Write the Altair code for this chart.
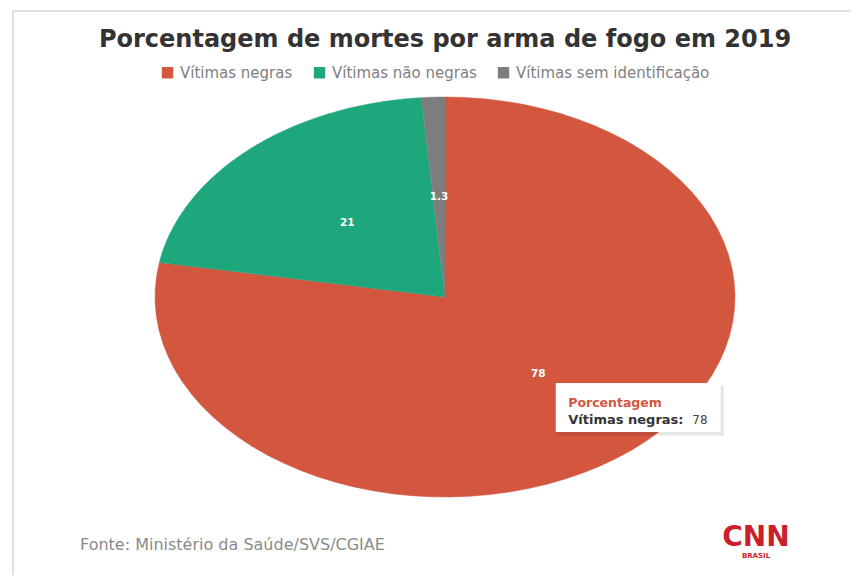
import altair as alt
import numpy as np
import pandas as pd

# ---- data ----
categorias = ["Vítimas negras", "Vítimas não negras", "Vítimas sem identificação"]
valores = [78, 21, 1.3]
rotulos = ["78", "21", "1.3"]
cores = ["#d3563f", "#1ea67d", "#7d7d7d"]
ordem = [0, 1, 2]

titulo = "Porcentagem de mortes por arma de fogo em 2019"
fonte = "Fonte: Ministério da Saúde/SVS/CGIAE"

# parametrisation of each wedge outline (-1 = centre point)
passos = [-1.0] + list(np.linspace(0, 1, 73))

fatias = pd.DataFrame({
    "categoria": categorias,
    "valor": valores,
    "rotulo": rotulos,
    "ordem": ordem,
})
fatias["t"] = [passos] * len(fatias)

cor = alt.Color(
    "categoria:N",
    scale=alt.Scale(domain=categorias, range=cores),
    legend=alt.Legend(
        title=None, orient="none", direction="horizontal",
        legendX=5, legendY=-32, symbolType="square", symbolSize=130,
        symbolStrokeWidth=0, labelFontSize=15, labelColor="#808080",
        labelFont="DejaVu Sans", columnPadding=19, symbolOffset=0,
        labelOffset=5, labelLimit=400,
    ),
)

xs = alt.Scale(domain=[-1, 1], nice=False, zero=False)
ys = alt.Scale(domain=[-1, 1], nice=False, zero=False)

base = alt.Chart(fatias).transform_joinaggregate(
    total="sum(valor)"
).transform_window(
    acum="sum(valor)", sort=[alt.SortField("ordem")], frame=[None, 0]
).transform_calculate(
    ini="(datum.acum - datum.valor) / datum.total * 2 * PI",
    fim="datum.acum / datum.total * 2 * PI",
)

wedges = base.transform_flatten(["t"]).transform_calculate(
    ang="datum.ini + datum.t * (datum.fim - datum.ini)",
    px="datum.t < 0 ? 0 : sin(datum.ang)",
    py="datum.t < 0 ? 0 : cos(datum.ang)",
).mark_line(filled=True, strokeWidth=0.5, interpolate="linear").encode(
    x=alt.X("px:Q", scale=xs, axis=None),
    y=alt.Y("py:Q", scale=ys, axis=None),
    color=cor,
    stroke=alt.Stroke("categoria:N", scale=alt.Scale(domain=categorias, range=cores), legend=None),
    order=alt.Order("t:Q"),
    detail="categoria:N",
)

meio = base.transform_calculate(
    meio="(datum.ini + datum.fim) / 2",
    lx="0.5 * sin(datum.meio)",
    ly="0.5 * cos(datum.meio)",
)

labels = meio.mark_text(
    font="DejaVu Sans", fontWeight="bold", fontSize=10.5, color="white",
).encode(
    x=alt.X("lx:Q", scale=xs, axis=None),
    y=alt.Y("ly:Q", scale=ys, axis=None),
    text="rotulo:N",
)

destaque = meio.transform_filter(alt.datum.ordem == 0)

sombra = destaque.mark_rect(
    width=167, height=50, color="#000", opacity=0.10, xOffset=102, yOffset=37
).encode(
    x=alt.X("lx:Q", scale=xs, axis=None),
    y=alt.Y("ly:Q", scale=ys, axis=None),
)
caixa = destaque.mark_rect(
    width=165, height=49, color="white", xOffset=100, yOffset=34
).encode(
    x=alt.X("lx:Q", scale=xs, axis=None),
    y=alt.Y("ly:Q", scale=ys, axis=None),
)
tip1 = destaque.mark_text(
    text="Porcentagem", align="left", font="DejaVu Sans", fontSize=12.5,
    fontWeight="bold", color="#d3563f", dx=30, dy=29,
).encode(
    x=alt.X("lx:Q", scale=xs, axis=None),
    y=alt.Y("ly:Q", scale=ys, axis=None),
)
tip2 = destaque.transform_calculate(
    linha="datum.categoria + ':'"
).mark_text(
    align="left", font="DejaVu Sans", fontSize=13, fontWeight="bold",
    color="#333", dx=30, dy=46,
).encode(
    x=alt.X("lx:Q", scale=xs, axis=None),
    y=alt.Y("ly:Q", scale=ys, axis=None),
    text="linha:N",
)
tip3 = destaque.mark_text(
    align="left", font="DejaVu Sans", fontSize=12, color="#444", dx=154, dy=46,
).encode(
    x=alt.X("lx:Q", scale=xs, axis=None),
    y=alt.Y("ly:Q", scale=ys, axis=None),
    text="rotulo:N",
)

anot = pd.DataFrame({"fonte": [fonte], "logo": ["CNN"], "sub": ["BRASIL"]})

txt_fonte = alt.Chart(anot).mark_text(
    align="left", baseline="middle", font="DejaVu Sans", fontSize=16, color="#8a8a8a"
).encode(x=alt.value(-75), y=alt.value(448), text="fonte:N")

logo = alt.Chart(anot).mark_text(
    align="center", baseline="middle", font="DejaVu Sans", fontSize=28,
    fontWeight="bold", color="#cc1f2b",
).encode(x=alt.value(601), y=alt.value(441), text="logo:N")

logo_sub = alt.Chart(anot).mark_text(
    align="center", baseline="middle", font="DejaVu Sans", fontSize=7,
    fontWeight="bold", color="#cc1f2b",
).encode(x=alt.value(601), y=alt.value(459), text="sub:N")

moldura = alt.Chart(anot).mark_rect(
    fill="transparent", stroke="#d6d6d6", strokeWidth=1.5
).encode(
    x=alt.value(-142), x2=alt.value(697), y=alt.value(-86), y2=alt.value(480)
)

chart = alt.layer(
    moldura, wedges, labels, sombra, caixa, tip1, tip2, tip3,
    txt_fonte, logo, logo_sub,
).properties(
    width=580,
    height=400,
    title=alt.Title(
        titulo, anchor="middle", frame="group", offset=0, dy=42,
        font="DejaVu Sans", fontSize=24, fontWeight="bold", color="#333",
    ),
    padding={"left": 147, "top": 89, "right": 116, "bottom": 78},
    autosize=alt.AutoSizeParams(type="none"),
    background="white",
).configure_view(stroke=None)

chart.save("out.html", embed_options={"renderer": "svg", "actions": False})
